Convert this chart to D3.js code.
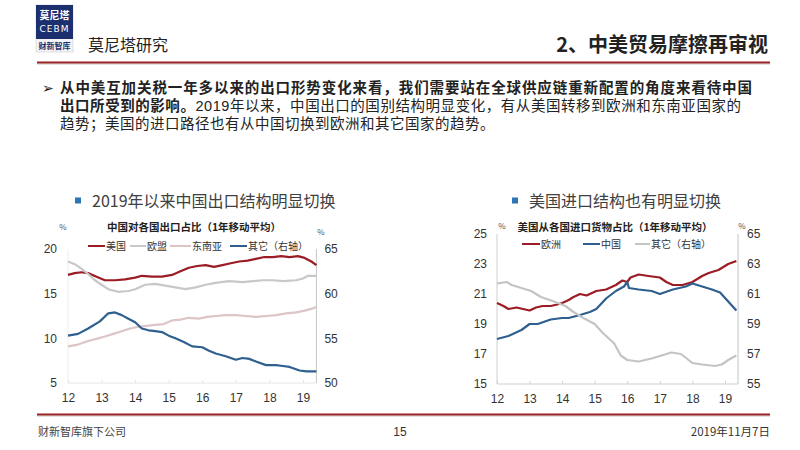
<!DOCTYPE html>
<html>
<head>
<meta charset="utf-8">
<script src="https://cdn.jsdelivr.net/npm/d3@7"></script>
<style>
  body { margin: 0; background: #fff; }
  svg { display: block; font-family: "Noto Sans CJK SC", "Noto Sans", sans-serif; }
</style>
</head>
<body>
<div id="page"></div>
<script>
// ---- data (years as 12 = 2012) ----
const xTickYears = [12, 13, 14, 15, 16, 17, 18, 19];
const xTickLabels = ['12', '13', '14', '15', '16', '17', '18', '19'];

// left panel: China exports share by destination, %
const cnLeftTicks = [5, 10, 15, 20];
const cnRightTicks = [50, 55, 60, 65];
const cnUS = [[12.0,17.1],[12.2,17.3],[12.4,17.4],[12.6,17.3],[12.85,16.9],[13.1,16.5],[13.4,16.5],[13.7,16.6],
  [14.0,16.8],[14.2,17.0],[14.5,16.9],[14.8,16.9],[15.1,17.1],[15.35,17.5],[15.6,17.9],[15.85,18.1],[16.1,18.2],
  [16.35,18.0],[16.6,18.2],[16.85,18.4],[17.1,18.6],[17.35,18.7],[17.6,18.9],[17.85,19.1],[18.1,19.1],[18.35,19.2],
  [18.6,19.1],[18.85,19.2],[19.05,19.0],[19.25,18.6],[19.4,18.2]];
const cnEU = [[12.0,18.6],[12.2,18.3],[12.4,17.8],[12.6,17.2],[12.8,16.5],[13.0,16.0],[13.2,15.5],[13.5,15.2],
  [13.8,15.3],[14.0,15.5],[14.3,16.0],[14.6,16.1],[14.9,15.9],[15.2,15.7],[15.5,15.5],[15.8,15.7],[16.1,16.0],
  [16.4,16.2],[16.8,16.4],[17.2,16.3],[17.5,16.4],[17.8,16.5],[18.1,16.5],[18.4,16.4],[18.8,16.5],[19.0,16.7],
  [19.15,17.0],[19.4,17.0]];
const cnASEAN = [[12.0,9.1],[12.3,9.3],[12.6,9.7],[12.9,10.0],[13.1,10.2],[13.35,10.5],[13.6,10.8],[13.85,11.1],
  [14.1,11.3],[14.35,11.4],[14.6,11.5],[14.85,11.6],[15.1,12.0],[15.35,12.1],[15.6,12.3],[15.9,12.2],[16.15,12.4],
  [16.4,12.5],[16.7,12.6],[17.0,12.6],[17.3,12.5],[17.6,12.4],[17.9,12.5],[18.2,12.6],[18.5,12.8],[18.8,12.9],
  [19.05,13.1],[19.25,13.3],[19.4,13.5]];
const cnOther = [[12.0,55.3],[12.3,55.5],[12.6,56.1],[12.95,56.9],[13.2,57.8],[13.4,57.9],[13.6,57.6],[13.8,57.2],
  [14.0,56.8],[14.2,56.1],[14.4,55.9],[14.6,55.8],[14.8,55.7],[15.0,55.3],[15.2,55.0],[15.45,54.6],[15.7,54.1],
  [16.0,54.0],[16.2,53.6],[16.4,53.3],[16.7,53.0],[17.0,52.6],[17.2,52.8],[17.4,52.7],[17.6,52.4],[17.9,52.0],
  [18.2,52.0],[18.4,51.9],[18.6,51.8],[18.9,51.4],[19.1,51.3],[19.4,51.3]];

// right panel: US imports share by origin, %
const usLeftTicks = [15, 17, 19, 21, 23, 25];
const usRightTicks = [55, 57, 59, 61, 63, 65];
const usEurope = [[12.0,20.4],[12.2,20.2],[12.35,20.0],[12.6,20.1],[12.8,20.0],[13.0,19.9],[13.2,20.1],[13.4,20.2],
  [13.65,20.2],[13.85,20.3],[14.0,20.4],[14.2,20.6],[14.35,20.8],[14.55,21.0],[14.75,20.9],[15.05,21.2],[15.35,21.3],
  [15.65,21.6],[15.85,21.9],[16.0,21.8],[16.1,22.1],[16.35,22.3],[16.65,22.2],[17.0,22.1],[17.2,21.8],[17.4,21.6],
  [17.7,21.6],[18.0,21.8],[18.3,22.2],[18.5,22.4],[18.8,22.6],[19.1,23.0],[19.35,23.2]];
const usChina = [[12.0,18.0],[12.35,18.2],[12.75,18.6],[13.0,19.0],[13.25,19.0],[13.65,19.3],[14.0,19.4],[14.2,19.4],
  [14.55,19.6],[14.85,19.8],[15.05,20.0],[15.35,20.7],[15.65,21.2],[15.9,21.5],[16.0,21.8],[16.05,21.4],[16.35,21.3],
  [16.75,21.2],[17.0,21.0],[17.4,21.3],[17.8,21.5],[18.0,21.7],[18.3,21.5],[18.6,21.3],[18.85,21.1],[19.1,20.5],
  [19.35,19.9]];
const usOther = [[12.0,61.7],[12.3,61.8],[12.45,61.6],[12.75,61.4],[13.05,61.2],[13.35,60.8],[13.75,60.5],[14.1,60.2],
  [14.35,59.8],[14.65,59.4],[15.0,59.0],[15.25,58.4],[15.6,57.7],[15.8,56.9],[16.0,56.6],[16.35,56.5],[16.75,56.7],
  [17.05,56.9],[17.35,57.1],[17.65,57.0],[18.0,56.4],[18.3,56.3],[18.7,56.2],[18.9,56.3],[19.1,56.6],[19.35,56.9]];

const bulletLines = [
  [{ t: '从中美互加关税一年多以来的出口形势变化来看，我们需要站在全球供应链重新配置的角度来看待中国', b: true }],
  [{ t: '出口所受到的影响。', b: true }, { t: '2019年以来，中国出口的国别结构明显变化，有从美国转移到欧洲和东南亚国家的', b: false }],
  [{ t: '趋势；美国的进口路径也有从中国切换到欧洲和其它国家的趋势。', b: false }]
];
const bulletWidths = [692, 681, null];

// ---- page ----
const W = 800, H = 450;
const svg = d3.select('#page').append('svg').attr('width', W).attr('height', H);
const red = '#9b2226';

// logo
const logo = svg.append('g');
logo.append('rect').attr('x', 36).attr('y', 5).attr('width', 37).attr('height', 47)
  .attr('fill', '#f4f4f6').attr('stroke', '#c9ccd8').attr('stroke-width', 0.6);
logo.append('rect').attr('x', 36).attr('y', 5).attr('width', 37).attr('height', 34).attr('fill', '#1c2f6e');
logo.append('text').attr('x', 54.5).attr('y', 19).attr('text-anchor', 'middle')
  .style('font-size', '10px').style('font-weight', 'bold').style('fill', '#fff').text('莫尼塔');
logo.append('text').attr('x', 54.5).attr('y', 32).attr('text-anchor', 'middle')
  .style('font-size', '9px').style('font-family', 'DejaVu Sans').style('letter-spacing', '1px')
  .style('fill', '#fff').text('CEBM');
logo.append('text').attr('x', 54.5).attr('y', 49).attr('text-anchor', 'middle')
  .style('font-size', '8px').style('font-weight', 'bold').style('fill', '#1c2f6e').text('财新智库');

svg.append('text').attr('x', 88).attr('y', 51)
  .style('font-size', '16px').style('fill', '#222').text('莫尼塔研究');
svg.append('text').attr('x', 768).attr('y', 52).attr('text-anchor', 'end')
  .style('font-size', '20px').style('font-weight', 'bold').style('fill', '#222').text('2、中美贸易摩擦再审视');

svg.append('line').attr('x1', 37).attr('x2', 770).attr('y1', 64).attr('y2', 64)
  .attr('stroke', '#c8c8c8').attr('stroke-width', 1);
svg.append('line').attr('x1', 37).attr('x2', 770).attr('y1', 62.5).attr('y2', 62.5)
  .attr('stroke', red).attr('stroke-width', 2);

// bullet text
svg.append('text').attr('x', 42).attr('y', 93)
  .style('font-size', '14px').style('font-family', 'DejaVu Sans').style('fill', '#222').text('➢');
bulletLines.forEach((line, i) => {
  const t = svg.append('text').attr('x', 60).attr('y', 93 + i * 18)
    .style('font-family', '"Liberation Sans", "Noto Sans CJK SC", sans-serif')
    .style('font-size', '14.5px').style('fill', '#222');
  if (bulletWidths[i]) t.attr('textLength', bulletWidths[i]).attr('lengthAdjust', 'spacing');
  else t.style('letter-spacing', '0.5px');
  line.forEach(seg => {
    t.append('tspan').style('font-weight', seg.b ? 'bold' : 'normal').text(seg.t);
  });
});

// panel headings
function heading(x, y, label) {
  svg.append('rect').attr('x', x).attr('y', y - 3.5).attr('width', 6).attr('height', 6).attr('fill', '#2e75b6');
  svg.append('text').attr('x', x + 17).attr('y', y + 6)
    .style('font-size', '16px').style('fill', '#404040').text(label);
}
heading(75, 201, '2019年以来中国出口结构明显切换');
heading(512, 201, '美国进口结构也有明显切换');

// ---- panel drawing ----
function panel(opt) {
  const g = svg.append('g');
  const x = d3.scaleLinear().domain([12, 19.4]).range(opt.xRange);
  const yL = d3.scaleLinear().domain(opt.leftDomain).range(opt.yRange);
  const yR = d3.scaleLinear().domain(opt.rightDomain).range(opt.yRange);
  const [x0, x1] = opt.xRange;
  const [yb, yt] = opt.yRange;

  // axis frame
  g.append('line').attr('x1', x0).attr('x2', x0).attr('y1', yt).attr('y2', yb).attr('stroke', opt.leftAxisColor);
  g.append('line').attr('x1', x1).attr('x2', x1).attr('y1', yt).attr('y2', yb).attr('stroke', '#c4c4c4');
  g.append('line').attr('x1', x0).attr('x2', x1).attr('y1', yb).attr('y2', yb).attr('stroke', opt.bottomAxisColor);

  const bottom = g.append('g').attr('transform', `translate(0,${yb})`)
    .call(d3.axisBottom(x).tickValues(xTickYears).tickSize(-3).tickPadding(10)
      .tickFormat((d, i) => xTickLabels[i]));
  bottom.select('.domain').remove();
  bottom.selectAll('line').attr('stroke', opt.bottomAxisColor);
  bottom.selectAll('text').style('font-size', '12px').style('fill', '#333')
    .style('font-family', 'Liberation Sans');

  const left = g.append('g').attr('transform', `translate(${x0},0)`)
    .call(d3.axisLeft(yL).tickValues(opt.leftTicks).tickSize(0).tickPadding(opt.leftPad));
  const right = g.append('g').attr('transform', `translate(${x1},0)`)
    .call(d3.axisRight(yR).tickValues(opt.rightTicks).tickSize(0).tickPadding(opt.rightPad));
  [left, right].forEach(a => {
    a.select('.domain').remove();
    a.selectAll('text').style('font-size', '12px').style('fill', '#333').style('font-family', 'Liberation Sans');
  });

  // series
  const line = yScale => d3.line().x(d => x(d[0])).y(d => yScale(d[1]));
  opt.series.forEach(s => {
    g.append('path').datum(s.data)
      .attr('fill', 'none').attr('stroke', s.color).attr('stroke-width', 2.2)
      .attr('stroke-linejoin', 'round').attr('d', line(s.right ? yR : yL)(s.data));
  });

  // titles, units, legend
  g.append('text').attr('x', opt.titleX).attr('y', opt.titleY).attr('text-anchor', 'middle')
    .style('font-size', '10.5px').style('font-weight', 'bold').style('fill', '#222').text(opt.title);
  opt.units.forEach(u => {
    g.append('text').attr('x', u[0]).attr('y', u[1]).attr('text-anchor', 'middle')
      .style('font-size', '8px').style('fill', '#555').text('%');
  });
  opt.series.forEach(s => {
    g.append('line').attr('x1', s.leg[0]).attr('x2', s.leg[1]).attr('y1', opt.legendY).attr('y2', opt.legendY)
      .attr('stroke', s.color).attr('stroke-width', 2);
    g.append('text').attr('x', s.leg[1] + 1).attr('y', opt.legendY + 3.5)
      .style('font-size', '10px').style('fill', '#333').text(s.name);
  });
}

panel({
  xRange: [68, 316.4], yRange: [383, 249],
  leftDomain: [5, 20], rightDomain: [50, 65],
  leftTicks: cnLeftTicks, rightTicks: cnRightTicks,
  leftPad: 11, rightPad: 8,
  leftAxisColor: '#ededed', bottomAxisColor: '#e6e6e6',
  title: '中国对各国出口占比（1年移动平均）', titleX: 194, titleY: 231,
  units: [[63, 230], [321, 235]],
  legendY: 246,
  series: [
    { name: '美国', data: cnUS, color: '#9b1c24', right: false, leg: [88, 105] },
    { name: '欧盟', data: cnEU, color: '#c8c8c8', right: false, leg: [130, 146] },
    { name: '东南亚', data: cnASEAN, color: '#dcc4c7', right: false, leg: [170, 191] },
    { name: '其它（右轴）', data: cnOther, color: '#2f5f8f', right: true, leg: [230, 247] }
  ]
});

panel({
  xRange: [497, 738], yRange: [384, 234],
  leftDomain: [15, 25], rightDomain: [55, 65],
  leftTicks: usLeftTicks, rightTicks: usRightTicks,
  leftPad: 10, rightPad: 9,
  leftAxisColor: '#cfcfcf', bottomAxisColor: '#cfcfcf',
  title: '美国从各国进口货物占比（1年移动平均）', titleX: 615, titleY: 231,
  units: [[502, 229], [742, 229]],
  legendY: 244,
  series: [
    { name: '欧洲', data: usEurope, color: '#9b1c24', right: false, leg: [522, 540] },
    { name: '中国', data: usChina, color: '#2f5f8f', right: false, leg: [583, 600] },
    { name: '其它（右轴）', data: usOther, color: '#c4c4c4', right: true, leg: [635, 650] }
  ]
});

// footer
svg.append('line').attr('x1', 37).attr('x2', 770).attr('y1', 416).attr('y2', 416)
  .attr('stroke', '#c8c8c8').attr('stroke-width', 1);
svg.append('line').attr('x1', 37).attr('x2', 770).attr('y1', 414.5).attr('y2', 414.5)
  .attr('stroke', red).attr('stroke-width', 2);
svg.append('text').attr('x', 38).attr('y', 436)
  .style('font-size', '11px').style('fill', '#444').text('财新智库旗下公司');
svg.append('text').attr('x', 400).attr('y', 436).attr('text-anchor', 'middle')
  .style('font-size', '12px').style('fill', '#333').style('font-family', 'Liberation Sans').text('15');
svg.append('text').attr('x', 770).attr('y', 436).attr('text-anchor', 'end')
  .style('font-size', '11.5px').style('fill', '#333').text('2019年11月7日');
</script>
</body>
</html>
